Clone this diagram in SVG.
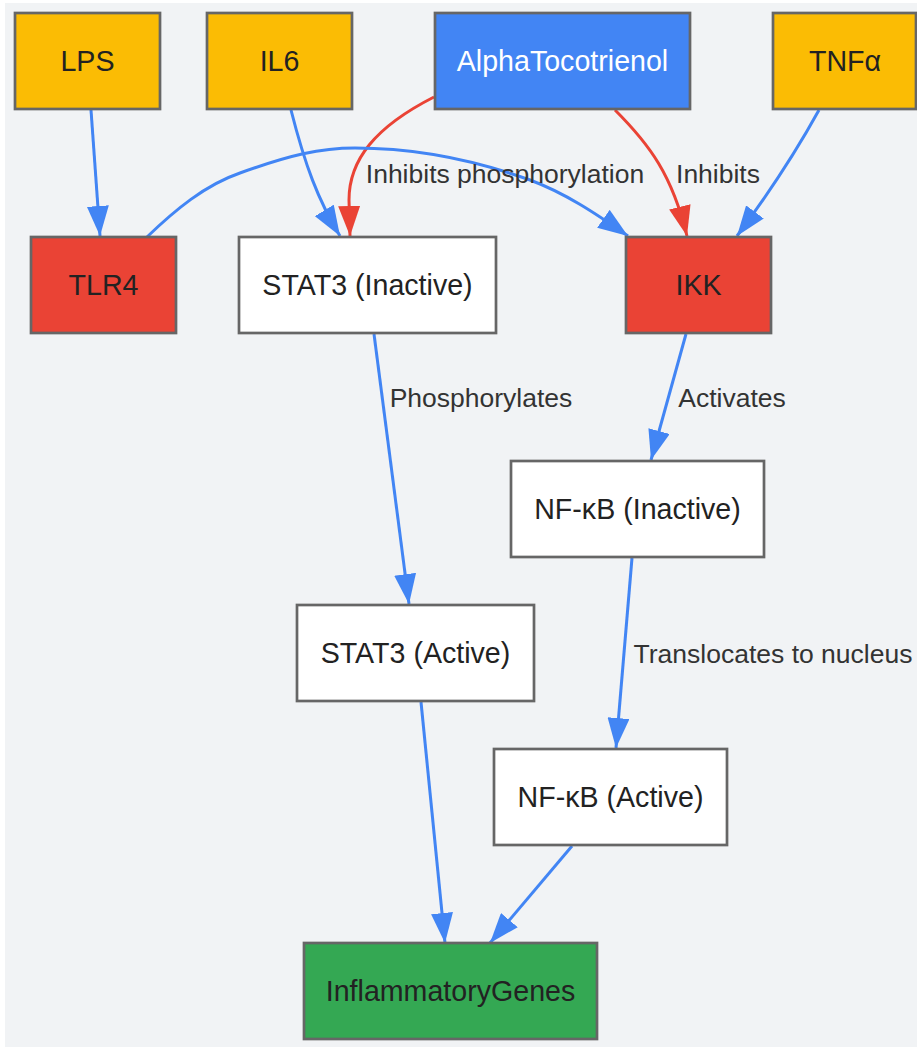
<svg xmlns="http://www.w3.org/2000/svg" width="917" height="1047" viewBox="0 0 917 1047">
<style>
.n{stroke:#666;stroke-width:2.7}
.t{font-family:"Liberation Sans",Arial,sans-serif;font-size:28.6px;fill:#222;text-anchor:middle}
.l{font-family:"Liberation Sans",Arial,sans-serif;font-size:26.5px;fill:#333;text-anchor:middle}
.e{fill:none;stroke:#4285f4;stroke-width:3;marker-end:url(#ab)}
.r{fill:none;stroke:#ea4335;stroke-width:3;marker-end:url(#ar)}
</style>
<defs>
<marker id="ab" markerUnits="userSpaceOnUse" markerWidth="30" markerHeight="22" refX="30" refY="11" orient="auto" viewBox="0 0 30 22"><path d="M0,0 L30,11 L0,22 z" fill="#4285f4"/></marker>
<marker id="ar" markerUnits="userSpaceOnUse" markerWidth="30" markerHeight="22" refX="30" refY="11" orient="auto" viewBox="0 0 30 22"><path d="M0,0 L30,11 L0,22 z" fill="#ea4335"/></marker>
</defs>
<rect x="5" y="3" width="912" height="1044" fill="#f1f3f5"/>
<g id="connectors">
<path class="e" d="M91,110 L100,236"/>
<path class="e" d="M291,110 C305,165 318,200 340,236"/>
<path class="r" d="M434,97 C375,127 349,160 349,200 L350,236"/>
<path class="r" d="M615,110 C650,145 672,175 687,236"/>
<path class="e" d="M819,110 C797,150 775,185 737,236"/>
<path class="e" d="M147,237 C175,210 205,185 240,173 C290,155 320,148 355,148 C420,148 480,162 530,180 C565,193 595,213 628,236"/>
<path class="e" d="M374,334 L409,604"/>
<path class="e" d="M686,334 L651,460"/>
<path class="e" d="M632,558 L616,748"/>
<path class="e" d="M421,702 L445,943"/>
<path class="e" d="M572,846 L490,943"/>
<text class="l" x="505" y="183">Inhibits phosphorylation</text>
<text class="l" x="718" y="183">Inhibits</text>
<text class="l" x="481" y="407">Phosphorylates</text>
<text class="l" x="732" y="407">Activates</text>
<text class="l" x="773" y="663">Translocates to nucleus</text>
</g>
<g id="LPS"><rect class="n" x="15" y="13" width="145" height="96" fill="#fbbc04"/><text class="t" x="87.5" y="71">LPS</text></g>
<g id="IL6"><rect class="n" x="207" y="13" width="145" height="96" fill="#fbbc04"/><text class="t" x="279.5" y="71">IL6</text></g>
<g id="AlphaTocotrienol"><rect class="n" x="435" y="13" width="255" height="96" fill="#4285f4"/><text class="t" x="562.5" y="71" style="fill:#fff">AlphaTocotrienol</text></g>
<g id="TNFa"><rect class="n" x="773" y="13" width="143" height="96" fill="#fbbc04"/><text class="t" x="845" y="71">TNFα</text></g>
<g id="TLR4"><rect class="n" x="31" y="237" width="145" height="96" fill="#ea4335"/><text class="t" x="103.5" y="295">TLR4</text></g>
<g id="STAT3_Inactive"><rect class="n" x="239" y="237" width="257" height="96" fill="#fff"/><text class="t" x="367.5" y="295">STAT3 (Inactive)</text></g>
<g id="IKK"><rect class="n" x="626" y="237" width="145" height="96" fill="#ea4335"/><text class="t" x="698.5" y="295">IKK</text></g>
<g id="NFkB_Inactive"><rect class="n" x="511" y="461" width="253" height="96" fill="#fff"/><text class="t" x="637.5" y="519">NF-κB (Inactive)</text></g>
<g id="STAT3_Active"><rect class="n" x="297" y="605" width="237" height="96" fill="#fff"/><text class="t" x="415.5" y="663">STAT3 (Active)</text></g>
<g id="NFkB_Active"><rect class="n" x="494" y="749" width="233" height="96" fill="#fff"/><text class="t" x="610.5" y="807">NF-κB (Active)</text></g>
<g id="InflammatoryGenes"><rect class="n" x="304" y="943" width="293" height="96" fill="#34a853"/><text class="t" x="450.5" y="1001">InflammatoryGenes</text></g>
</svg>
